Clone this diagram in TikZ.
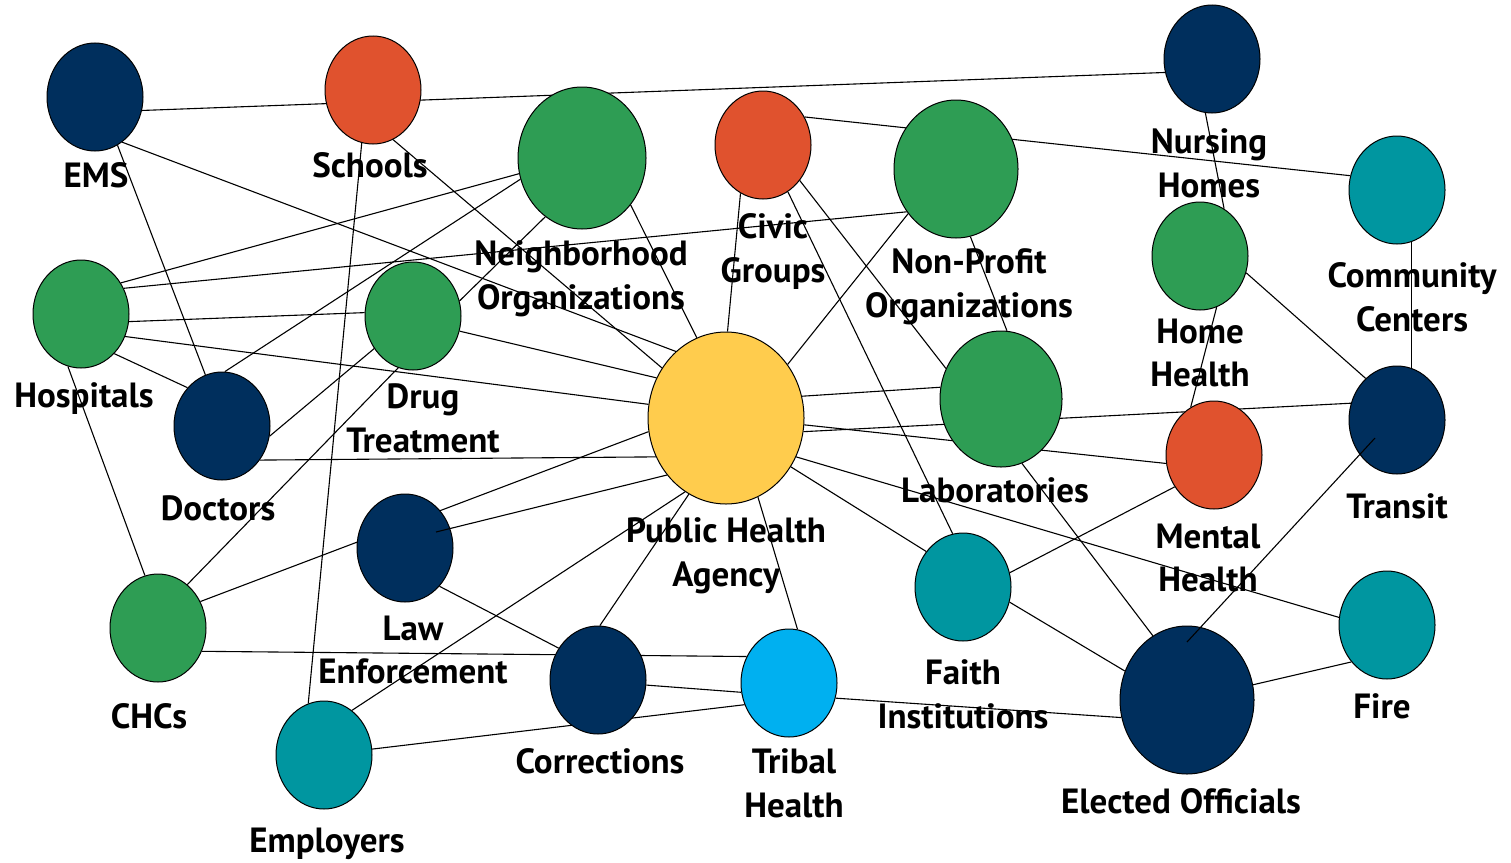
\documentclass[tikz,border=0pt]{standalone}
\usepackage{fontspec}
\setmainfont{PT Sans}
\usetikzlibrary{shapes.geometric,positioning,backgrounds,calc}
\definecolor{navy}{RGB}{0,47,93}
\definecolor{rust}{RGB}{224,82,46}
\definecolor{leaf}{RGB}{46,157,84}
\definecolor{sea}{RGB}{0,150,160}
\definecolor{sun}{RGB}{255,204,77}
\definecolor{sky}{RGB}{0,176,240}
\begin{document}
\begin{tikzpicture}[x=1pt,y=-1pt,
        org/.style={ellipse,draw=black,line width=1pt,inner sep=0pt,minimum width=96pt,minimum height=108pt},
        lbl/.style={font=\fontsize{35}{43.5}\selectfont\bfseries,align=center,inner sep=0pt},
        link/.style={draw=black,line width=1.1pt}]
      \useasboundingbox (0,0) rectangle (1511,862);
      % circles
      \node [org,fill=navy] (ems) at (95,97) {};
      \node [org,fill=rust] (sch) at (373,90) {};
      \node [org,fill=leaf] (hos) at (81,314) {};
      \node [org,fill=leaf] (dru) at (413,316) {};
      \node [org,fill=navy] (doc) at (222,426) {};
      \node [org,fill=leaf,minimum width=128pt,minimum height=142pt] (nei) at (582,158) {};
      \node [org,fill=rust] (civ) at (763,145) {};
      \node [org,fill=leaf,minimum width=124pt,minimum height=138pt] (npo) at (956,169) {};
      \node [org,fill=navy] (nur) at (1212,59) {};
      \node [org,fill=sea] (com) at (1397,190) {};
      \node [org,fill=leaf] (hom) at (1200,256) {};
      \node [org,fill=leaf,minimum width=122pt,minimum height=136pt] (lab) at (1001,399) {};
      \node [org,fill=navy] (tra) at (1397,420) {};
      \node [org,fill=rust] (men) at (1214,455) {};
      \node [org,fill=sea] (fir) at (1387,625) {};
      \node [org,fill=navy,minimum width=134pt,minimum height=148pt] (ele) at (1187,700) {};
      \node [org,fill=sea] (fai) at (963,587) {};
      \node [org,fill=sun,minimum width=156pt,minimum height=172pt] (pha) at (726,418) {};
      \node [org,fill=sky] (tri) at (789,683) {};
      \node [org,fill=navy] (cor) at (598,680) {};
      \node [org,fill=navy] (law) at (405,548) {};
      \node [org,fill=leaf] (chc) at (158,628) {};
      \node [org,fill=sea] (emp) at (324,755) {};
      % labels
      \node [lbl,below=11pt of ems,xshift=1pt] (ems-t) {EMS};
      \node [lbl,below=8pt of sch,xshift=-3pt] (sch-t) {Schools};
      \node [lbl,below=11pt of nei,xshift=-1pt] (nei-t) {Neighborhood\\Organizations};
      \node [lbl,below=14pt of civ,xshift=10pt] (civ-t) {Civic\\Groups};
      \node [lbl,below=10pt of npo,xshift=13pt] (npo-t) {Non-Profit\\Organizations};
      \node [lbl,below=15pt of nur,xshift=-3pt] (nur-t) {Nursing\\Homes};
      \node [lbl,below=18pt of com,xshift=15pt] (com-t) {Community\\Centers};
      \node [lbl,below=8pt of hom] (hom-t) {Home\\Health};
      \node [lbl,below=14pt of hos,xshift=3pt] (hos-t) {Hospitals};
      \node [lbl,below=13pt of dru,xshift=10pt] (dru-t) {Drug\\Treatment};
      \node [lbl,below=15pt of doc,xshift=-4pt] (doc-t) {Doctors};
      \node [lbl,below=10pt of lab,xshift=-6pt] (lab-t) {Laboratories};
      \node [lbl,below=19pt of tra] (tra-t) {Transit};
      \node [lbl,below=13pt of pha] (pha-t) {Public Health\\Agency};
      \node [lbl,below=14pt of men,xshift=-6pt] (men-t) {Mental\\Health};
      \node [lbl,below=13pt of law,xshift=8pt] (law-t) {Law\\Enforcement};
      \node [lbl,below=18pt of fai] (fai-t) {Faith\\Institutions};
      \node [lbl,below=21pt of chc,xshift=-9pt] (chc-t) {CHCs};
      \node [lbl,below=14pt of cor,xshift=2pt] (cor-t) {Corrections};
      \node [lbl,below=11pt of tri,xshift=5pt] (tri-t) {Tribal\\Health};
      \node [lbl,below=14pt of fir,xshift=-5pt] (fir-t) {Fire};
      \node [lbl,below=14pt of ele,xshift=-6pt] (ele-t) {Elected Officials};
      \node [lbl,below=18pt of emp,xshift=3pt] (emp-t) {Employers};
      % links behind the circles
      \begin{scope}[on background layer]
        \fill [white] (0,0) rectangle (1511,862);
        \path [link]
        (ems.-16) edge (nur.196)
        (ems.-59) edge (pha.127)
        (ems.-65) edge (doc.108)
        (sch.258) edge (emp.107)
        (sch.-68) edge (pha.142)
        (hos.38) edge (nei.194)
        (hos.31.5) edge (npo.221)
        (hos.-9) edge (dru.176)
        (hos.-27) edge (pha.170.5)
        (hos.-50) edge (doc.132)
        (hos.256) edge (chc.104)
        (doc.87) edge (nei.199)
        (doc.-12) edge (dru.220)
        (dru.254) edge (chc.56)
        (dru.-18) edge (pha.150)
        (nei.238) edge (dru.18)
        (nei.-44) edge (pha.110)
        (civ.245) edge (pha.89)
        (civ.34) edge (com.163)
        (civ.-62) edge (fai.101)
        (civ.-44) edge (lab.151)
        (npo.223) edge (pha.41)
        (npo.-78) edge (lab.85)
        (lab.-72) edge (ele.118)
        (nur.263) edge (hom.63)
        (hom.-72) edge (men.116)
        (hom.-20) edge (tra.127)
        (com.-74) edge (tra.74)
        (pha.16) edge (lab.169)
        (pha.-10) edge (tra.160)
        (pha.-5) edge (men.190)
        (pha.-29) edge (fir.171)
        (pha.-37) edge (fai.136)
        (pha.-68) edge (tri.81)
        (pha.244) edge (cor.88)
        (pha.241) edge (emp.58)
        (pha.190) edge (chc.32.5)
        (pha.209) edge (doc.-42)
        (law.-48) edge (cor.141)
        (chc.-28) edge (tri.148)
        (cor.-6) edge (tri.191)
        (emp.7) edge (tri.206)
        (tri.-18) edge (ele.195)
        (fai.17) edge (men.219)
        (fai.-18) edge (ele.155)
        (ele.13) edge (fir.226.5);
      \end{scope}
      % two links run into the circles
      \draw [link] (pha.224) -- ($(law)+(31,-16)$);
      \draw [link] ($(tra)+(-22,18)$) -- ($(ele)+(0,-58)$);
\end{tikzpicture}
\end{document}
